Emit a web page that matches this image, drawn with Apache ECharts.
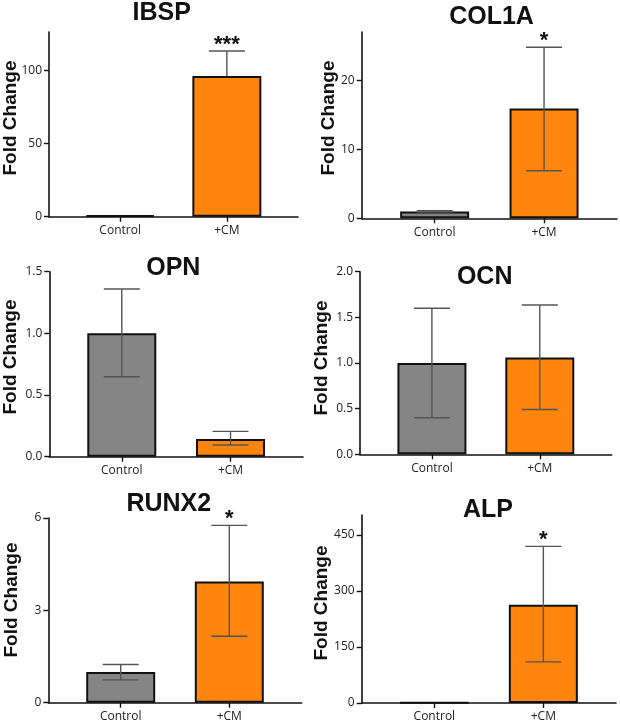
<!DOCTYPE html>
<html>
<head>
<meta charset="utf-8">
<script src="https://cdn.jsdelivr.net/npm/echarts@6/dist/echarts.min.js"></script>
<style>html,body{margin:0;padding:0;background:#fff}#c{width:620px;height:723px}</style>
</head>
<body>
<div id="c"></div>
<script>
// ---- data ----
const categories = ['Control', '+CM'];
const genes = ['IBSP', 'COL1A', 'OPN', 'OCN', 'RUNX2', 'ALP'];
const yAxisName = 'Fold Change';

const meanIBSP = [1.0, 96.0];
const lowIBSP  = [1.0, 96.0];
const highIBSP = [1.0, 113.0];
const sigIBSP  = ['', '***'];
const ticksIBSP = [0, 50, 100];
const maxIBSP = 126;

const meanCOL1A = [1.0, 15.9];
const lowCOL1A  = [0.9, 6.9];
const highCOL1A = [1.1, 24.8];
const sigCOL1A  = ['', '*'];
const ticksCOL1A = [0, 10, 20];
const maxCOL1A = 27;

const meanOPN = [1.0, 0.143];
const lowOPN  = [0.648, 0.095];
const highOPN = [1.36, 0.205];
const sigOPN  = ['', ''];
const ticksOPN = [0, 0.5, 1.0, 1.5];
const maxOPN = 1.5;

const meanOCN = [1.0, 1.06];
const lowOCN  = [0.40, 0.49];
const highOCN = [1.60, 1.635];
const sigOCN  = ['', ''];
const ticksOCN = [0, 0.5, 1.0, 1.5, 2.0];
const maxOCN = 2.0;

const meanRUNX2 = [1.0, 3.94];
const lowRUNX2  = [0.74, 2.16];
const highRUNX2 = [1.24, 5.76];
const sigRUNX2  = ['', '*'];
const ticksRUNX2 = [0, 3, 6];
const maxRUNX2 = 6;

const meanALP = [1.0, 263];
const lowALP  = [1.0, 110];
const highALP = [1.0, 419];
const sigALP  = ['', '*'];
const ticksALP = [0, 150, 300, 450];
const maxALP = 503;

const tickDecimals = [0, 0, 1, 1, 0, 0];

// ---- layout (pixels) ----
const means = [meanIBSP, meanCOL1A, meanOPN, meanOCN, meanRUNX2, meanALP];
const lows = [lowIBSP, lowCOL1A, lowOPN, lowOCN, lowRUNX2, lowALP];
const highs = [highIBSP, highCOL1A, highOPN, highOCN, highRUNX2, highALP];
const sigs = [sigIBSP, sigCOL1A, sigOPN, sigOCN, sigRUNX2, sigALP];
const ticks = [ticksIBSP, ticksCOL1A, ticksOPN, ticksOCN, ticksRUNX2, ticksALP];
const maxes = [maxIBSP, maxCOL1A, maxOPN, maxOCN, maxRUNX2, maxALP];

const gridBox = [
  {x0: 49, x1: 298, y0: 32, y1: 216.7},
  {x0: 361.7, x1: 617, y0: 32, y1: 218.3},
  {x0: 49.3, x1: 303, y0: 271.7, y1: 456.7},
  {x0: 360, x1: 611.7, y0: 271.7, y1: 454.3},
  {x0: 48.3, x1: 301.7, y0: 518, y1: 702.7},
  {x0: 361.7, x1: 616, y0: 515, y1: 703.3}
];
const titlePos = [[161.7, 13], [491.5, 17], [173.3, 268], [484.7, 277], [168.8, 504], [488, 510.5]];
const namePos = [[10.5, 118], [328.3, 118], [10.8, 357], [321.7, 358], [12, 600], [321.7, 603]];

const barColors = ['#858585', '#ff850c'];
const ink = '#111';
const axisFont = 'Open Sans';

const grids = [], xAxes = [], yAxes = [], series = [], graphics = [];
for (let i = 0; i < 6; i++) {
  const g = gridBox[i];
  grids.push({left: g.x0, top: g.y0, width: g.x1 - g.x0, height: g.y1 - g.y0, containLabel: false});
  xAxes.push({
    type: 'value', gridIndex: i, min: -2/3, max: 5/3,
    splitLine: {show: false},
    axisLine: {show: true, onZero: false, lineStyle: {color: ink, width: 1.6}},
    axisTick: {show: true, customValues: [0, 1], length: 5, lineStyle: {color: ink, width: 1.4}},
    axisLabel: {customValues: [0, 1], formatter: v => categories[Math.round(v)] || '',
      margin: 8, color: '#222', fontFamily: axisFont, fontSize: 12}
  });
  const dec = tickDecimals[i];
  yAxes.push({
    type: 'value', gridIndex: i, min: 0, max: maxes[i],
    splitLine: {show: false},
    axisLine: {show: true, onZero: false, lineStyle: {color: ink, width: 1.6}},
    axisTick: {show: true, customValues: ticks[i], length: 5, lineStyle: {color: ink, width: 1.4}},
    axisLabel: {customValues: ticks[i], formatter: v => Number(v).toFixed(dec),
      margin: 7, color: '#222', fontFamily: axisFont, fontSize: 12}
  });
  series.push({
    type: 'bar', xAxisIndex: i, yAxisIndex: i, barWidth: 69, silent: true,
    data: means[i].map((v, k) => ({value: [k, v], itemStyle: {color: barColors[k]}})),
    itemStyle: {borderColor: ink, borderWidth: 2},
    z: 2
  });
  series.push({
    type: 'custom', xAxisIndex: i, yAxisIndex: i, silent: true, z: 5,
    data: means[i].map((v, k) => [k, v, lows[i][k], highs[i][k], k]),
    renderItem: (params, api) => {
      const k = api.value(4);
      const x = api.value(0), m = api.value(1), lo = api.value(2), hi = api.value(3);
      const pm = api.coord([x, m]), pl = api.coord([x, lo]), ph = api.coord([x, hi]);
      const cap = 18;
      const st = {stroke: '#555', lineWidth: 1.4};
      const ch = [];
      if (hi > m) {
        ch.push({type: 'line', shape: {x1: pm[0], y1: pm[1], x2: ph[0], y2: ph[1]}, style: st});
        ch.push({type: 'line', shape: {x1: ph[0] - cap, y1: ph[1], x2: ph[0] + cap, y2: ph[1]}, style: st});
      }
      if (lo < m) {
        ch.push({type: 'line', shape: {x1: pm[0], y1: pm[1], x2: pl[0], y2: pl[1]}, style: st});
        ch.push({type: 'line', shape: {x1: pl[0] - cap, y1: pl[1], x2: pl[0] + cap, y2: pl[1]}, style: st});
      }
      const s = sigs[params.seriesIndex >> 1][k];
      if (s) {
        ch.push({type: 'text', style: {text: s, x: ph[0], y: ph[1] - 6, align: 'center', verticalAlign: 'middle',
          font: 'bold 22px "Liberation Sans", Arial, sans-serif', fill: ink}});
      }
      return {type: 'group', children: ch};
    }
  });
  graphics.push({type: 'text', x: titlePos[i][0], y: titlePos[i][1], z: 10,
    style: {text: genes[i], align: 'center', verticalAlign: 'middle',
      font: 'bold 25px "Liberation Sans", Arial, sans-serif', fill: ink}});
  graphics.push({type: 'text', x: namePos[i][0], y: namePos[i][1], rotation: Math.PI / 2, z: 10,
    style: {text: yAxisName, align: 'center', verticalAlign: 'middle',
      font: 'bold 19px "Liberation Sans", Arial, sans-serif', fill: ink}});
}

const chart = echarts.init(document.getElementById('c'), null, {renderer: 'canvas'});
chart.setOption({
  animation: false,
  backgroundColor: '#fff',
  grid: grids, xAxis: xAxes, yAxis: yAxes, series: series, graphic: graphics
});
</script>
</body>
</html>
